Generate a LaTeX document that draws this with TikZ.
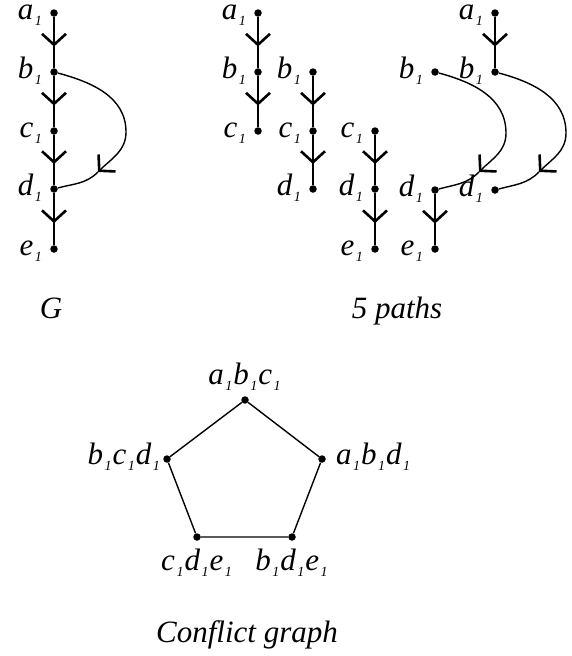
\documentclass[tikz,border=0pt]{standalone}
\usepackage{fontspec}
\setmainfont{Liberation Serif}
\usetikzlibrary{arrows.meta,decorations.markings}
\newcommand{\lw}[1]{\kern1.5pt\raisebox{-6pt}{\fontsize{14}{16}\selectfont#1}\kern1pt}
\tikzset{
	vtx/.style={circle,fill,inner sep=0pt,minimum size=7.5pt},
	every label/.style={inner sep=2pt},
	lab/.style={label={[anchor=mid east,label distance=5pt,yshift=-4pt]left:#1}},
	edge/.style={line width=1.9pt},
	curveline/.style={line width=1.4pt},
	tip/.style={decoration={markings,mark=at position #1 with {\arrow{>}}},postaction={decorate}},
	>={Straight Barb[length=11pt,width=24pt,line width=2.6pt]}
}
\begin{document}
\begin{tikzpicture}[x=1pt,y=-1pt,font=\fontsize{31}{36}\selectfont\itshape]
	\useasboundingbox (0,0) rectangle (572,656);

	% G
	\node[vtx,lab={a\lw{1}}] (a1) at (54,13) {};
	\node[vtx,lab={b\lw{1}}] (b1) at (54,72) {};
	\node[vtx,lab={c\lw{1}}] (c1) at (54,131) {};
	\node[vtx,lab={d\lw{1}}] (d1) at (54,189) {};
	\node[vtx,lab={e\lw{1}}] (e1) at (54,249) {};
	\coordinate (k1) at (98,172);
	\draw[edge,tip=0.58] (a1) -- (b1);
	\draw[edge,tip=0.58] (b1) -- (c1);
	\draw[edge,tip=0.58] (c1) -- (d1);
	\draw[edge,tip=0.58] (d1) -- (e1);
	\draw[curveline,->] (b1) to[out=-15,in=90] (126,132) to[out=-90,in=45] (k1);
	\draw[curveline] (k1) to[out=-135,in=15] (d1);
	\node[anchor=base] (G) at (51,318) {G};

	% 5 paths
	\node[vtx,lab={a\lw{1}}] (pa1) at (258,13) {};
	\node[vtx,lab={b\lw{1}}] (pb1) at (258,72) {};
	\node[vtx,lab={c\lw{1}}] (pc1) at (258,131) {};
	\draw[edge,tip=0.58] (pa1) -- (pb1);
	\draw[edge,tip=0.58] (pb1) -- (pc1);

	\node[vtx,lab={b\lw{1}}] (qb1) at (313,72) {};
	\node[vtx,lab={c\lw{1}}] (qc1) at (313,131) {};
	\node[vtx,lab={d\lw{1}}] (qd1) at (313,189) {};
	\draw[edge,tip=0.58] (qb1) -- (qc1);
	\draw[edge,tip=0.58] (qc1) -- (qd1);

	\node[vtx,lab={c\lw{1}}] (rc1) at (375,131) {};
	\node[vtx,lab={d\lw{1}}] (rd1) at (375,189) {};
	\node[vtx,lab={e\lw{1}}] (re1) at (375,249) {};
	\draw[edge,tip=0.58] (rc1) -- (rd1);
	\draw[edge,tip=0.58] (rd1) -- (re1);

	\node[vtx,lab={b\lw{1}}] (sb1) at (435,72) {};
	\node[vtx,lab={d\lw{1}}] (sd1) at (435,190) {};
	\node[vtx,lab={e\lw{1}}] (se1) at (435,249) {};
	\coordinate (k2) at (479,172);
	\draw[curveline,->] (sb1) to[out=-15,in=90] (506,133) to[out=-90,in=45] (k2);
	\draw[curveline] (k2) to[out=-135,in=15] (sd1);
	\draw[edge,tip=0.58] (sd1) -- (se1);

	\node[vtx,lab={a\lw{1}}] (ta1) at (495,13) {};
	\node[vtx,lab={b\lw{1}}] (tb1) at (495,72) {};
	\node[vtx,lab={d\lw{1}}] (td1) at (495,190) {};
	\coordinate (k3) at (539,172);
	\draw[edge,tip=0.58] (ta1) -- (tb1);
	\draw[curveline,->] (tb1) to[out=-15,in=90] (566,133) to[out=-90,in=45] (k3);
	\draw[curveline] (k3) to[out=-135,in=15] (td1);
	\node[anchor=base] (paths) at (397,318) {5 paths};

	% conflict graph
	\node[vtx,label={[anchor=base,label distance=12pt]above:{a\lw{1}b\lw{1}c\lw{1}}}] (abc) at (245,400) {};
	\node[vtx,label={[anchor=mid west,label distance=8pt,yshift=-3pt]right:{a\lw{1}b\lw{1}d\lw{1}}}] (abd) at (322,459) {};
	\node[vtx,label={[anchor=base,label distance=30pt]below:{b\lw{1}d\lw{1}e\lw{1}}}] (bde) at (292,537) {};
	\node[vtx,label={[anchor=base,label distance=30pt]below:{c\lw{1}d\lw{1}e\lw{1}}}] (cde) at (197,537) {};
	\node[vtx,label={[anchor=mid east,label distance=0pt,yshift=-3pt]left:{b\lw{1}c\lw{1}d\lw{1}}}] (bcd) at (167,459) {};
	\draw[curveline] (abc) -- (abd) -- (bde) -- (cde) -- (bcd) -- (abc);
	\node[anchor=base] (conf) at (247,642) {Conflict graph};
\end{tikzpicture}
\end{document}
